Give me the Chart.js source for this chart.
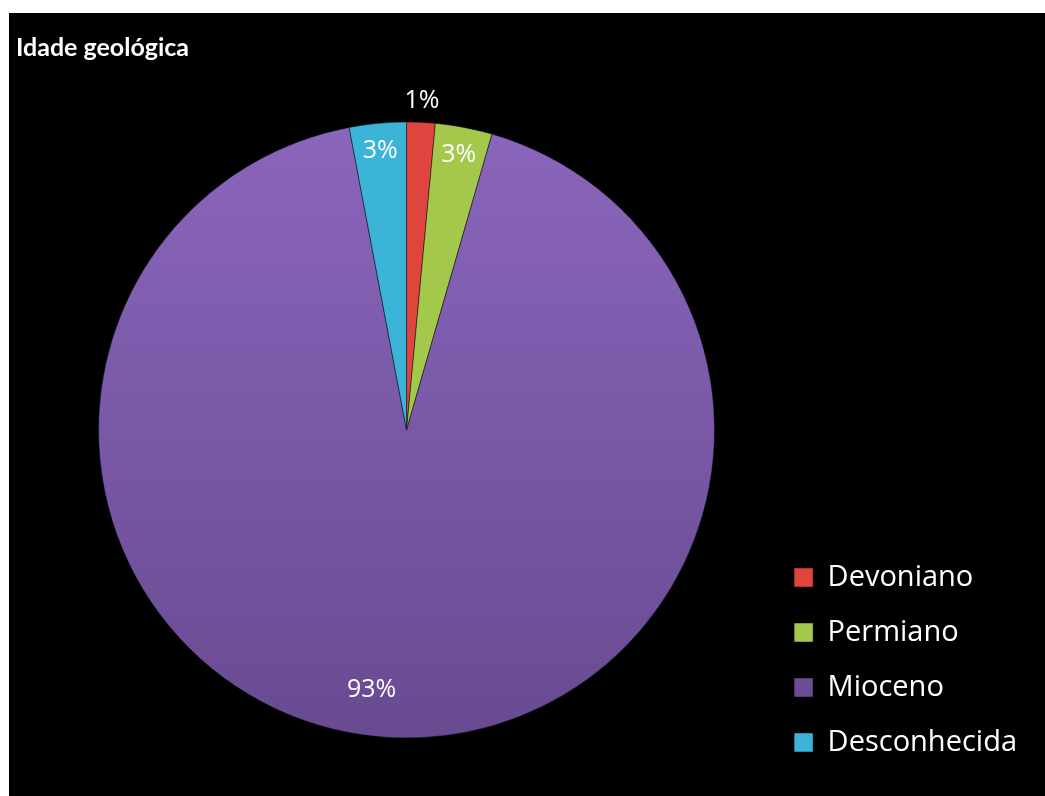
<!DOCTYPE html>
<html>
<head>
<meta charset="utf-8">
<script src="https://cdn.jsdelivr.net/npm/chart.js@4/dist/chart.umd.min.js"></script>
<style>
  body { margin: 0; background: #fff; }
  #wrap { position: absolute; left: 9px; top: 13px; width: 1036px; height: 783px; background: #000; }
  #title { position: absolute; left: 7px; top: 18px; color: #fff; font: bold 25px Lato, sans-serif; }
  canvas { position: absolute; left: 0; top: 0; }
</style>
</head>
<body>
<div id="wrap">
  <canvas id="pie" width="1036" height="783"></canvas>
  <div id="title">Idade geológica</div>
</div>
<script>
const categories = ['Devoniano', 'Permiano', 'Mioceno', 'Desconhecida'];
const counts = [1, 2, 62, 2];
const sliceColors = ['#e0443e', '#a3c84b', null, '#3cb4d7'];
// where each percent label sits: fraction of radius, small angle nudge (deg)
const labelRadius = [1.07, 0.91, 0.85, 0.91];
const labelNudge = [0, 0, 5, 0];

function sliceColor(ctx) {
  const c = sliceColors[ctx.dataIndex];
  if (c) return c;
  const area = ctx.chart.chartArea;
  if (!area) return '#7b5aa9';
  const g = ctx.chart.ctx.createLinearGradient(0, 110, 0, 730);
  g.addColorStop(0, '#8a66bc');
  g.addColorStop(1, '#684a91');
  return g;
}

const pctLabels = {
  id: 'pctLabels',
  afterDatasetsDraw(chart) {
    const c = chart.ctx;
    const meta = chart.getDatasetMeta(0);
    const total = counts.reduce((a, b) => a + b, 0);
    c.save();
    c.fillStyle = '#fff';
    c.font = '25px "Open Sans", sans-serif';
    c.textAlign = 'center';
    c.textBaseline = 'middle';
    meta.data.forEach((arc, i) => {
      const p = arc.getProps(['x', 'y', 'startAngle', 'endAngle', 'outerRadius']);
      const mid = (p.startAngle + p.endAngle) / 2 + labelNudge[i] * Math.PI / 180;
      const r = p.outerRadius * labelRadius[i];
      c.fillText(Math.round(counts[i] / total * 100) + '%', p.x + Math.cos(mid) * r, p.y + Math.sin(mid) * r);
    });
    c.restore();
  }
};

new Chart(document.getElementById('pie').getContext('2d'), {
  type: 'pie',
  data: {
    labels: categories,
    datasets: [{
      data: counts,
      backgroundColor: sliceColor,
      borderColor: 'rgba(0,0,0,0.45)',
      borderWidth: 1,
      radius: 308
    }]
  },
  options: {
    responsive: false,
    animation: false,
    layout: { padding: { left: 36, right: 18, top: 64, bottom: 13 } },
    plugins: {
      tooltip: { enabled: false },
      legend: {
        position: 'right',
        align: 'end',
        labels: {
          color: '#fff',
          font: { family: '"Open Sans", sans-serif', size: 29 },
          boxWidth: 19,
          boxHeight: 19,
          padding: 26
        }
      }
    }
  },
  plugins: [pctLabels]
});
</script>
</body>
</html>
